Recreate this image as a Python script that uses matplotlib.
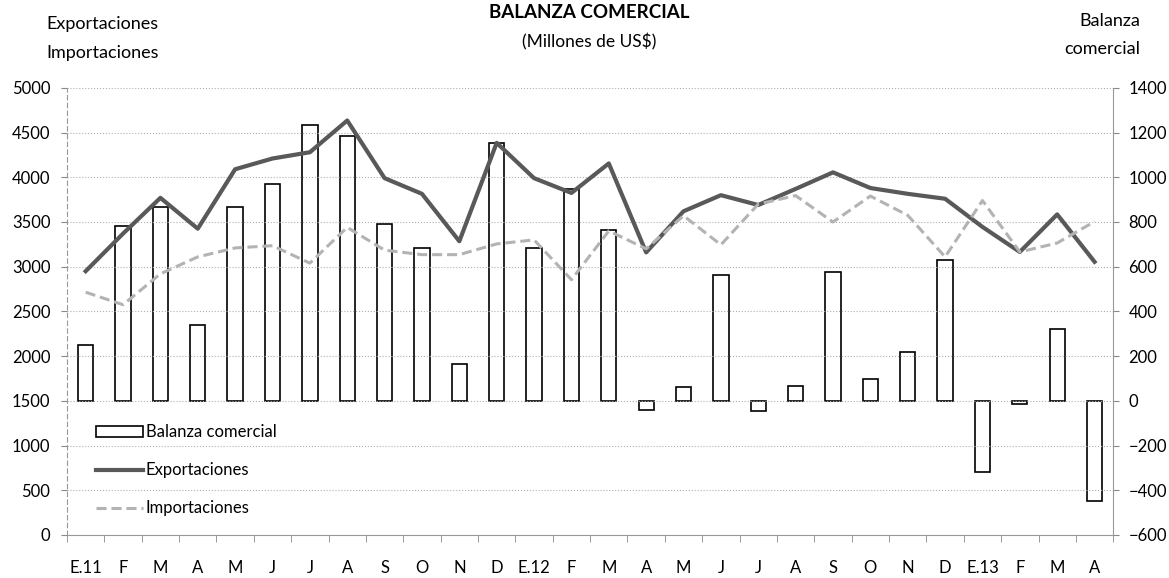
import numpy as np
import matplotlib
matplotlib.use("Agg")
import matplotlib.pyplot as plt

plt.rcParams['font.family'] = ['Lato', 'DejaVu Sans']

# months from January 2011 to April 2013
meses = ['E.11', 'F', 'M', 'A', 'M', 'J', 'J', 'A', 'S', 'O', 'N', 'D',
         'E.12', 'F', 'M', 'A', 'M', 'J', 'J', 'A', 'S', 'O', 'N', 'D',
         'E.13', 'F', 'M', 'A']

# millones de US$
exportaciones = [2950, 3370, 3770, 3425, 4090, 4210, 4280, 4635, 3990, 3815,
                 3285, 4385, 3990, 3825, 4155, 3160, 3620, 3800, 3690, 3870,
                 4055, 3880, 3815, 3760, 3445, 3165, 3585, 3055]
importaciones = [2715, 2575, 2920, 3110, 3210, 3235, 3040, 3440, 3185, 3135,
                 3135, 3255, 3300, 2855, 3400, 3200, 3570, 3245, 3700, 3795,
                 3500, 3790, 3575, 3110, 3740, 3165, 3265, 3505]
balanza = [252, 780, 868, 340, 868, 968, 1234, 1186, 792, 684,
           164, 1153, 684, 948, 765, -40, 62, 564, -45, 68,
           575, 96, 220, 630, -320, -15, 322, -448]

x = np.arange(len(meses))

fig = plt.figure(figsize=(11.69, 5.78), dpi=100)
ax = fig.add_axes([0.0573, 0.0744, 0.895, 0.7736])
ax2 = ax.twinx()

# bars on the right scale
ax2.bar(x, balanza, width=0.41, facecolor='white', edgecolor='black',
        linewidth=1.2, label='Balanza comercial')
ax2.set_ylim(-600, 1400)
ax2.set_yticks(range(-600, 1401, 200))

# lines on the left scale, drawn above the bars
ax.set_zorder(ax2.get_zorder() + 1)
ax.patch.set_visible(False)
l1, = ax.plot(x, exportaciones, color='#595959', linewidth=3.0,
              label='Exportaciones')
l2, = ax.plot(x, importaciones, color='#b3b3b3', linewidth=2.2,
              linestyle=(0, (3.3, 1.6)), label='Importaciones')
ax.set_ylim(0, 5000)
ax.set_yticks(range(0, 5001, 500))
ax.set_xlim(-0.5, len(meses) - 0.5)

ax.grid(axis='y', color='#b0b0b0', linestyle=':', linewidth=0.8)
ax.set_axisbelow(True)

ax.set_xticks(x)
ax.set_xticklabels(meses)
ax.set_xticks(np.arange(-0.5, len(meses), 1), minor=True)
ax.tick_params(axis='x', which='major', length=0, pad=18, labelsize=12)
ax.tick_params(axis='x', which='minor', length=5, color='#888888', direction='out')
ax.tick_params(axis='y', length=4, color='#888888', labelsize=12, pad=8)
ax2.tick_params(axis='y', length=4, color='#888888', labelsize=12, pad=7)

for a in (ax, ax2):
    a.spines['top'].set_visible(False)
ax.spines['left'].set_color('#999999')
ax.spines['left'].set_linestyle((0, (4, 3)))
ax.spines['right'].set_visible(False)
ax2.spines['left'].set_visible(False)
ax2.spines['bottom'].set_visible(False)
ax2.spines['right'].set_color('#999999')
ax.spines['bottom'].set_color('#999999')

bar_handle = ax2.containers[0].patches[0]
leg = ax.legend([bar_handle, l1, l2],
                ['Balanza comercial', 'Exportaciones', 'Importaciones'],
                loc='upper left', bbox_to_anchor=(0.082, 0.266),
                bbox_transform=fig.transFigure, borderpad=0, borderaxespad=0,
                frameon=False, fontsize=12, handlelength=2.8,
                handletextpad=0.2, labelspacing=1.32, handleheight=0.65)

fig.text(0.504, 0.979, 'BALANZA COMERCIAL', ha='center', va='center',
         fontsize=13.5, fontweight='bold')
fig.text(0.504, 0.927, '(Millones de US$)', ha='center', va='center', fontsize=12.5)
fig.text(0.040, 0.958, 'Exportaciones', ha='left', va='center', fontsize=13)
fig.text(0.040, 0.909, 'Importaciones', ha='left', va='center', fontsize=13)
fig.text(0.975, 0.963, 'Balanza', ha='right', va='center', fontsize=13)
fig.text(0.975, 0.916, 'comercial', ha='right', va='center', fontsize=13)

fig.savefig('out.png', dpi=100)
